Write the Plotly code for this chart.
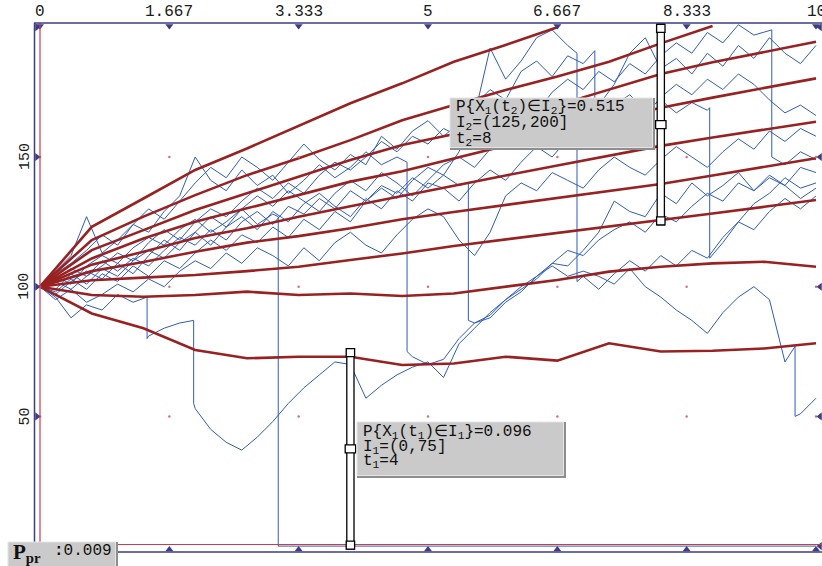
import plotly.graph_objects as go

# ---------------- data ----------------
T = [0.0, 0.2, 0.4, 0.6, 0.8, 1.0, 1.2, 1.4, 1.6, 1.8, 2.0, 2.2, 2.4, 2.6, 2.8, 3.0,
     3.2, 3.4, 3.6, 3.8, 4.0, 4.2, 4.4, 4.6, 4.8, 5.0, 5.2, 5.4, 5.6, 5.8, 6.0, 6.2,
     6.4, 6.6, 6.8, 7.0, 7.2, 7.4, 7.6, 7.8, 8.0, 8.2, 8.4, 8.6, 8.8, 9.0, 9.2, 9.4,
     9.6, 9.8, 10.0]

path_a = [100, 104, 101, 108, 112, 109, 115, 119, 116, 122,
          126, 121, 125, 130, 124, 128, 0, 0, 0, 0,
          0, 0, 0, 0, 0, 0, 0, 0, 0, 0,
          0, 0, 0, 0, 0, 0, 0, 0, 0, 0,
          0, 0, 0, 0, 0, 0, 0, 0, 0, 0,
          0]
jumps_a = [(3.07, 127, 0)]

path_b = [100, 96, 88, 93, 91, 97, 94, 81, 84, 86,
          53, 45, 40, 37, 42, 48, 55, 61, 66, 71,
          70, 57, 62, 66, 69, 71, 65, 78, 84, 90,
          95, 100, 104, 109, 108, 114, 121, 133, 129, 127,
          136, 132, 140, 135, 139, 144, 137, 142, 139, 134,
          138]
jumps_b = [(1.38, 96, 80), (1.98, 87, 55)]

path_c = [100, 106, 112, 127, 113, 118, 124, 121, 129, 135,
          150, 141, 137, 145, 139, 143, 136, 141, 147, 142,
          146, 152, 147, 150, 73, 70, 72, 80, 86, 88,
          94, 98, 104, 108, 104, 106, 104, 101, 107, 100,
          96, 91, 87, 82, 90, 96, 100, 95, 71, 51,
          57]
jumps_c = [(4.73, 148, 75), (9.73, 77, 50)]

path_d = [100, 103, 107, 104, 110, 106, 111, 108, 114, 119,
          116, 122, 118, 125, 129, 124, 131, 128, 134, 130,
          137, 133, 139, 136, 142, 138, 143, 139, 86, 89,
          95, 99, 103, 109, 114, 112, 118, 122, 125, 121,
          128, 125, 131, 136, 133, 140, 137, 143, 139, 146,
          144]
jumps_d = [(5.52, 140, 87)]

path_e = [100, 98, 103, 99, 105, 102, 108, 104, 110, 107,
          113, 118, 114, 120, 117, 123, 119, 126, 122, 129,
          125, 133, 138, 134, 141, 146, 143, 152, 166, 192,
          180, 187, 196, 199, 193, 104, 99, 105, 110, 106,
          112, 108, 114, 111, 119, 125, 122, 129, 134, 130,
          135]
jumps_e = [(6.92, 190, 102)]

path_f = [100, 97, 102, 106, 103, 109, 105, 112, 118, 114,
          121, 127, 123, 130, 135, 131, 137, 133, 129, 136,
          141, 137, 144, 140, 135, 141, 147, 150, 146, 153,
          158, 154, 160, 165, 161, 167, 163, 170, 174, 168,
          172, 167, 171, 168, 117, 125, 132, 136, 142, 138,
          140]
jumps_f = [(8.63, 169, 111)]

path_g = [100, 105, 109, 114, 120, 116, 124, 130, 126, 133,
          140, 146, 142, 150, 146, 141, 148, 155, 149, 145,
          151, 147, 158, 153, 160, 164, 158, 163, 170, 176,
          172, 183, 187, 181, 189, 186, 170, 178, 190, 196,
          184, 188, 182, 190, 185, 193, 188, 196, 190, 186,
          193]
jumps_g = [(7.15, 191, 168)]

path_h = [100, 102, 99, 104, 108, 113, 110, 117, 122, 118,
          125, 130, 127, 133, 138, 134, 140, 136, 143, 148,
          145, 150, 156, 152, 158, 155, 161, 158, 164, 168,
          163, 171, 167, 175, 180, 176, 183, 179, 186, 182,
          189, 194, 190, 198, 194, 201, 197, 199, 147, 152,
          149]
jumps_h = [(9.43, 199, 150)]

path_i = [100, 99, 105, 101, 107, 104, 110, 114, 111, 117,
          121, 116, 123, 127, 122, 129, 125, 132, 136, 131,
          127, 134, 130, 137, 133, 140, 138, 133, 140, 145,
          141, 148, 154, 150, 157, 162, 158, 165, 170, 166,
          173, 178, 174, 180, 176, 182, 178, 172, 167, 170,
          166]
jumps_i = []

path_j = [100, 95, 99, 94, 97, 101, 98, 103, 100, 106,
          110, 107, 113, 109, 115, 112, 108, 115, 110, 117,
          121, 116, 113, 120, 126, 130, 127, 118, 112, 121,
          135, 140, 137, 144, 141, 138, 145, 150, 146, 143,
          149, 154, 150, 146, 152, 157, 153, 160, 156, 161,
          158]
jumps_j = []

# quantile curves
Q_T = [0, 0.667, 1.333, 2, 2.667, 3.333, 4, 4.667, 5.333, 6, 6.667, 7.333, 8, 8.667, 9.333, 10]
q1 = [100, 123.1, 134, 145, 153.3, 162, 170.7, 178.4, 186.7, 193.2, 200, None, None, None, None, None]
q2 = [100, 118, 127, 135.3, 143, 149.5, 156.5, 164.2, 170, 175.8, 181, 186.7, 193.8, 200.5, None, None]
q3 = [100, 114.1, 121.8, 129.6, 136, 142.4, 148.8, 154.6, 158.8, 163, 170, 176, 182, 186.5, 190.5, 194.4]
q4 = [100, 110.9, 118.6, 125, 130.2, 135.3, 140.5, 144.5, 149.5, 154.4, 159.3, 164.2, 169, 172.9, 176.6, 180.3]
q5 = [100, 108.5, 113.5, 118.8, 122.5, 127, 131, 135, 139, 142.9, 146.7, 150.5, 154.3, 157.5, 160.6, 163.6]
q6 = [100, 106, 109.5, 113.5, 117, 119.5, 122.5, 126, 128.8, 131.5, 134.2, 136.9, 139.6, 142.9, 146.3, 149.5]
q7 = [100, 102.5, 103.5, 104.5, 106, 107.7, 110.3, 112.8, 115.7, 118.2, 120.6, 123.1, 125.5, 128.2, 130.8, 133.4]
q8 = [100, 96.8, 96.1, 96.8, 98.1, 96.8, 97.4, 96.4, 97.4, 100, 102.6, 105.8, 107.7, 109, 109.6, 107.7]
q9 = [100, 89.7, 84, 75.6, 72.4, 73, 73, 69.8, 70.4, 73, 71.5, 78.2, 75, 75.3, 76.2, 78.2]

X_TICKS = [0, 1.667, 3.333, 5, 6.667, 8.333, 10]
X_TICK_TEXT = ["0", "1.667", "3.333", "5", "6.667", "8.333", "10"]
Y_TICKS = [50, 100, 150]
Y_TICK_TEXT = ["50", "100", "150"]
Y_MARKS = [0, 50, 100, 150, 200]

interval_1 = (4, 0, 75)      # t1, lower, upper
interval_2 = (8, 125, 200)   # t2, lower, upper
box_1_lines = ["P{X<sub>1</sub>(t<sub>1</sub>)\u2208I<sub>1</sub>}=0.096",
               "I<sub>1</sub>=(0,75]", "t<sub>1</sub>=4"]
box_2_lines = ["P{X<sub>1</sub>(t<sub>2</sub>)\u2208I<sub>2</sub>}=0.515",
               "I<sub>2</sub>=(125,200]", "t<sub>2</sub>=8"]
p_pr_value = "0.009"

# ---------------- geometry ----------------
W, H = 822, 566
ML, MR, MT, MB = 34, 0, 23, 14
PXU = 77.6       # px per x unit
PYU = 2.594      # px per y unit
X0 = (ML - 40) / PXU
X1 = (W - 40) / PXU
Y0 = (546.1 - (H - MB)) / PYU
Y1 = (546.1 - MT) / PYU
PW = W - ML - MR
PH = H - MT - MB


def pxp(p):
    return (p - ML) / PW


def pyp(q):
    return ((H - MB) - q) / PH


def build(vals, jumps):
    pts = list(zip(T, vals))
    for (tj, a, b) in jumps:
        pts.append((tj, a))
        pts.append((tj, b))
    pts.sort(key=lambda p: p[0])
    return [p[0] for p in pts], [p[1] for p in pts]


BLUE = "#2f5cbd"
DRED = "#972221"
NAVY = "#3d3d86"
RED = "#cc3b48"

fig = go.Figure()

paths = [(path_a, jumps_a), (path_b, jumps_b), (path_c, jumps_c), (path_d, jumps_d),
         (path_e, jumps_e), (path_f, jumps_f), (path_g, jumps_g), (path_h, jumps_h),
         (path_i, jumps_i), (path_j, jumps_j)]
for vals, jumps in paths:
    xs, ys = build(vals, jumps)
    fig.add_trace(go.Scatter(x=xs, y=ys, mode="lines",
                             line=dict(color=BLUE, width=1), hoverinfo="skip"))

for q in [q1, q2, q3, q4, q5, q6, q7, q8, q9]:
    fig.add_trace(go.Scatter(x=Q_T, y=q, mode="lines", connectgaps=False,
                             line=dict(color=DRED, width=2.6), hoverinfo="skip"))

# grid dots
gx, gy = [], []
for xv in X_TICKS:
    for yv in Y_MARKS[1:]:
        gx.append(xv)
        gy.append(yv)
fig.add_trace(go.Scatter(x=gx, y=gy, mode="markers",
                         marker=dict(color="#d9707c", size=2.5), hoverinfo="skip"))

# tick triangles on the frame
tri_top_y = (546.1 - 26) / PYU
tri_bot_y = (546.1 - 549.5) / PYU
tri_left_x = (37 - 40) / PXU
tri_right_x = (820 - 40) / PXU
fig.add_trace(go.Scatter(x=X_TICKS, y=[tri_top_y] * len(X_TICKS), mode="markers", cliponaxis=False,
                         marker=dict(symbol="triangle-down", color=NAVY, size=7), hoverinfo="skip"))
fig.add_trace(go.Scatter(x=X_TICKS, y=[tri_bot_y] * len(X_TICKS), mode="markers", cliponaxis=False,
                         marker=dict(symbol="triangle-up", color=NAVY, size=7), hoverinfo="skip"))
fig.add_trace(go.Scatter(x=[tri_left_x] * len(Y_MARKS), y=Y_MARKS, mode="markers", cliponaxis=False,
                         marker=dict(symbol="triangle-right", color=NAVY, size=7), hoverinfo="skip"))
fig.add_trace(go.Scatter(x=[tri_right_x] * len(Y_MARKS), y=Y_MARKS, mode="markers", cliponaxis=False,
                         marker=dict(symbol="triangle-left", color=NAVY, size=7), hoverinfo="skip"))

shapes = []
# red reference lines (x=0, y=0)
shapes.append(dict(type="line", xref="x", yref="paper", x0=0, x1=0, y0=pyp(546), y1=1,
                   line=dict(color=RED, width=1.2), layer="above"))
shapes.append(dict(type="line", xref="paper", yref="paper", x0=pxp(40), x1=1, y0=pyp(544.5), y1=pyp(544.5),
                   line=dict(color=RED, width=1.2), layer="above"))
# navy frame
shapes.append(dict(type="line", xref="paper", yref="paper", x0=pxp(34.5), x1=pxp(34.5), y0=0, y1=1,
                   line=dict(color=NAVY, width=1.5), layer="above"))
shapes.append(dict(type="line", xref="paper", yref="paper", x0=pxp(34), x1=1.01, y0=pyp(23), y1=pyp(23),
                   line=dict(color=NAVY, width=1.5), layer="above"))
shapes.append(dict(type="line", xref="paper", yref="paper", x0=pxp(34), x1=1.01, y0=pyp(552), y1=pyp(552),
                   line=dict(color=NAVY, width=1.5), layer="above"))


def bar(t, lo, hi):
    hw = 3.6 / PXU
    ext = 3 / PYU
    cap = 8 / PYU
    out = []
    style = dict(type="rect", xref="x", yref="y", fillcolor="white",
                 line=dict(color="black", width=1.3), layer="above")
    out.append(dict(style, x0=t - hw, x1=t + hw, y0=lo - ext, y1=hi + ext))
    out.append(dict(style, x0=t - hw - 0.6 / PXU, x1=t + hw + 0.6 / PXU, y0=hi + ext - cap, y1=hi + ext))
    out.append(dict(style, x0=t - hw - 0.6 / PXU, x1=t + hw + 0.6 / PXU, y0=lo - ext, y1=lo - ext + cap))
    mid = (lo + hi) / 2
    out.append(dict(style, x0=t - 5.2 / PXU, x1=t + 5.2 / PXU, y0=mid - 4 / PYU, y1=mid + 4 / PYU))
    return out


shapes += bar(*interval_1)
shapes += bar(*interval_2)


def box(l, t, r, b):
    out = []
    out.append(dict(type="rect", xref="paper", yref="paper", x0=pxp(l), x1=pxp(r), y0=pyp(b), y1=pyp(t),
                    fillcolor="#8e8e8e", line=dict(width=0), layer="above"))
    out.append(dict(type="rect", xref="paper", yref="paper", x0=pxp(l), x1=pxp(r - 2.5), y0=pyp(b - 2.5), y1=pyp(t),
                    fillcolor="#cacaca", line=dict(color="#e4e4e4", width=1), layer="above"))
    return out


shapes += box(450, 98, 655, 150)
shapes += box(357, 422, 566, 478)
shapes += box(8, 542, 118, 570)

annotations = []
MONO = "Liberation Mono"
for xv, txt in zip(X_TICKS, X_TICK_TEXT):
    annotations.append(dict(x=xv, xref="x", y=pyp(12.5), yref="paper", text=txt, showarrow=False,
                            xanchor="center", yanchor="middle",
                            font=dict(family=MONO, size=16, color="#1a1a1a")))
for yv, txt in zip(Y_TICKS, Y_TICK_TEXT):
    annotations.append(dict(x=pxp(25), xref="paper", y=yv, yref="y", text=txt, showarrow=False,
                            textangle=-90, xanchor="center", yanchor="middle",
                            font=dict(family=MONO, size=15, color="#1a1a1a")))

for i, line in enumerate(box_2_lines):
    annotations.append(dict(x=pxp(454), xref="paper", y=pyp(108 + i * 15.5), yref="paper", text=line,
                            showarrow=False, xanchor="left", yanchor="middle",
                            font=dict(family=MONO, size=16, color="#111111")))
for i, line in enumerate(box_1_lines):
    annotations.append(dict(x=pxp(361), xref="paper", y=pyp(432.5 + i * 14.6), yref="paper", text=line,
                            showarrow=False, xanchor="left", yanchor="middle",
                            font=dict(family=MONO, size=16, color="#111111")))

annotations.append(dict(x=pxp(11), xref="paper", y=pyp(553), yref="paper", text="<b>P<sub>pr</sub></b>",
                        showarrow=False, xanchor="left", yanchor="middle",
                        font=dict(family="Liberation Serif", size=21, color="#111111")))
annotations.append(dict(x=pxp(52), xref="paper", y=pyp(551), yref="paper", text="<b>:</b>" + p_pr_value,
                        showarrow=False, xanchor="left", yanchor="middle",
                        font=dict(family=MONO, size=16, color="#111111")))

fig.update_layout(
    width=W, height=H,
    margin=dict(l=ML, r=MR, t=MT, b=MB, pad=0),
    paper_bgcolor="white", plot_bgcolor="white",
    showlegend=False,
    xaxis=dict(range=[X0, X1], showgrid=False, zeroline=False, showticklabels=False,
               showline=False, ticks=""),
    yaxis=dict(range=[Y0, Y1], showgrid=False, zeroline=False, showticklabels=False,
               showline=False, ticks=""),
    shapes=shapes,
    annotations=annotations,
)

fig.write_html("out.html")
